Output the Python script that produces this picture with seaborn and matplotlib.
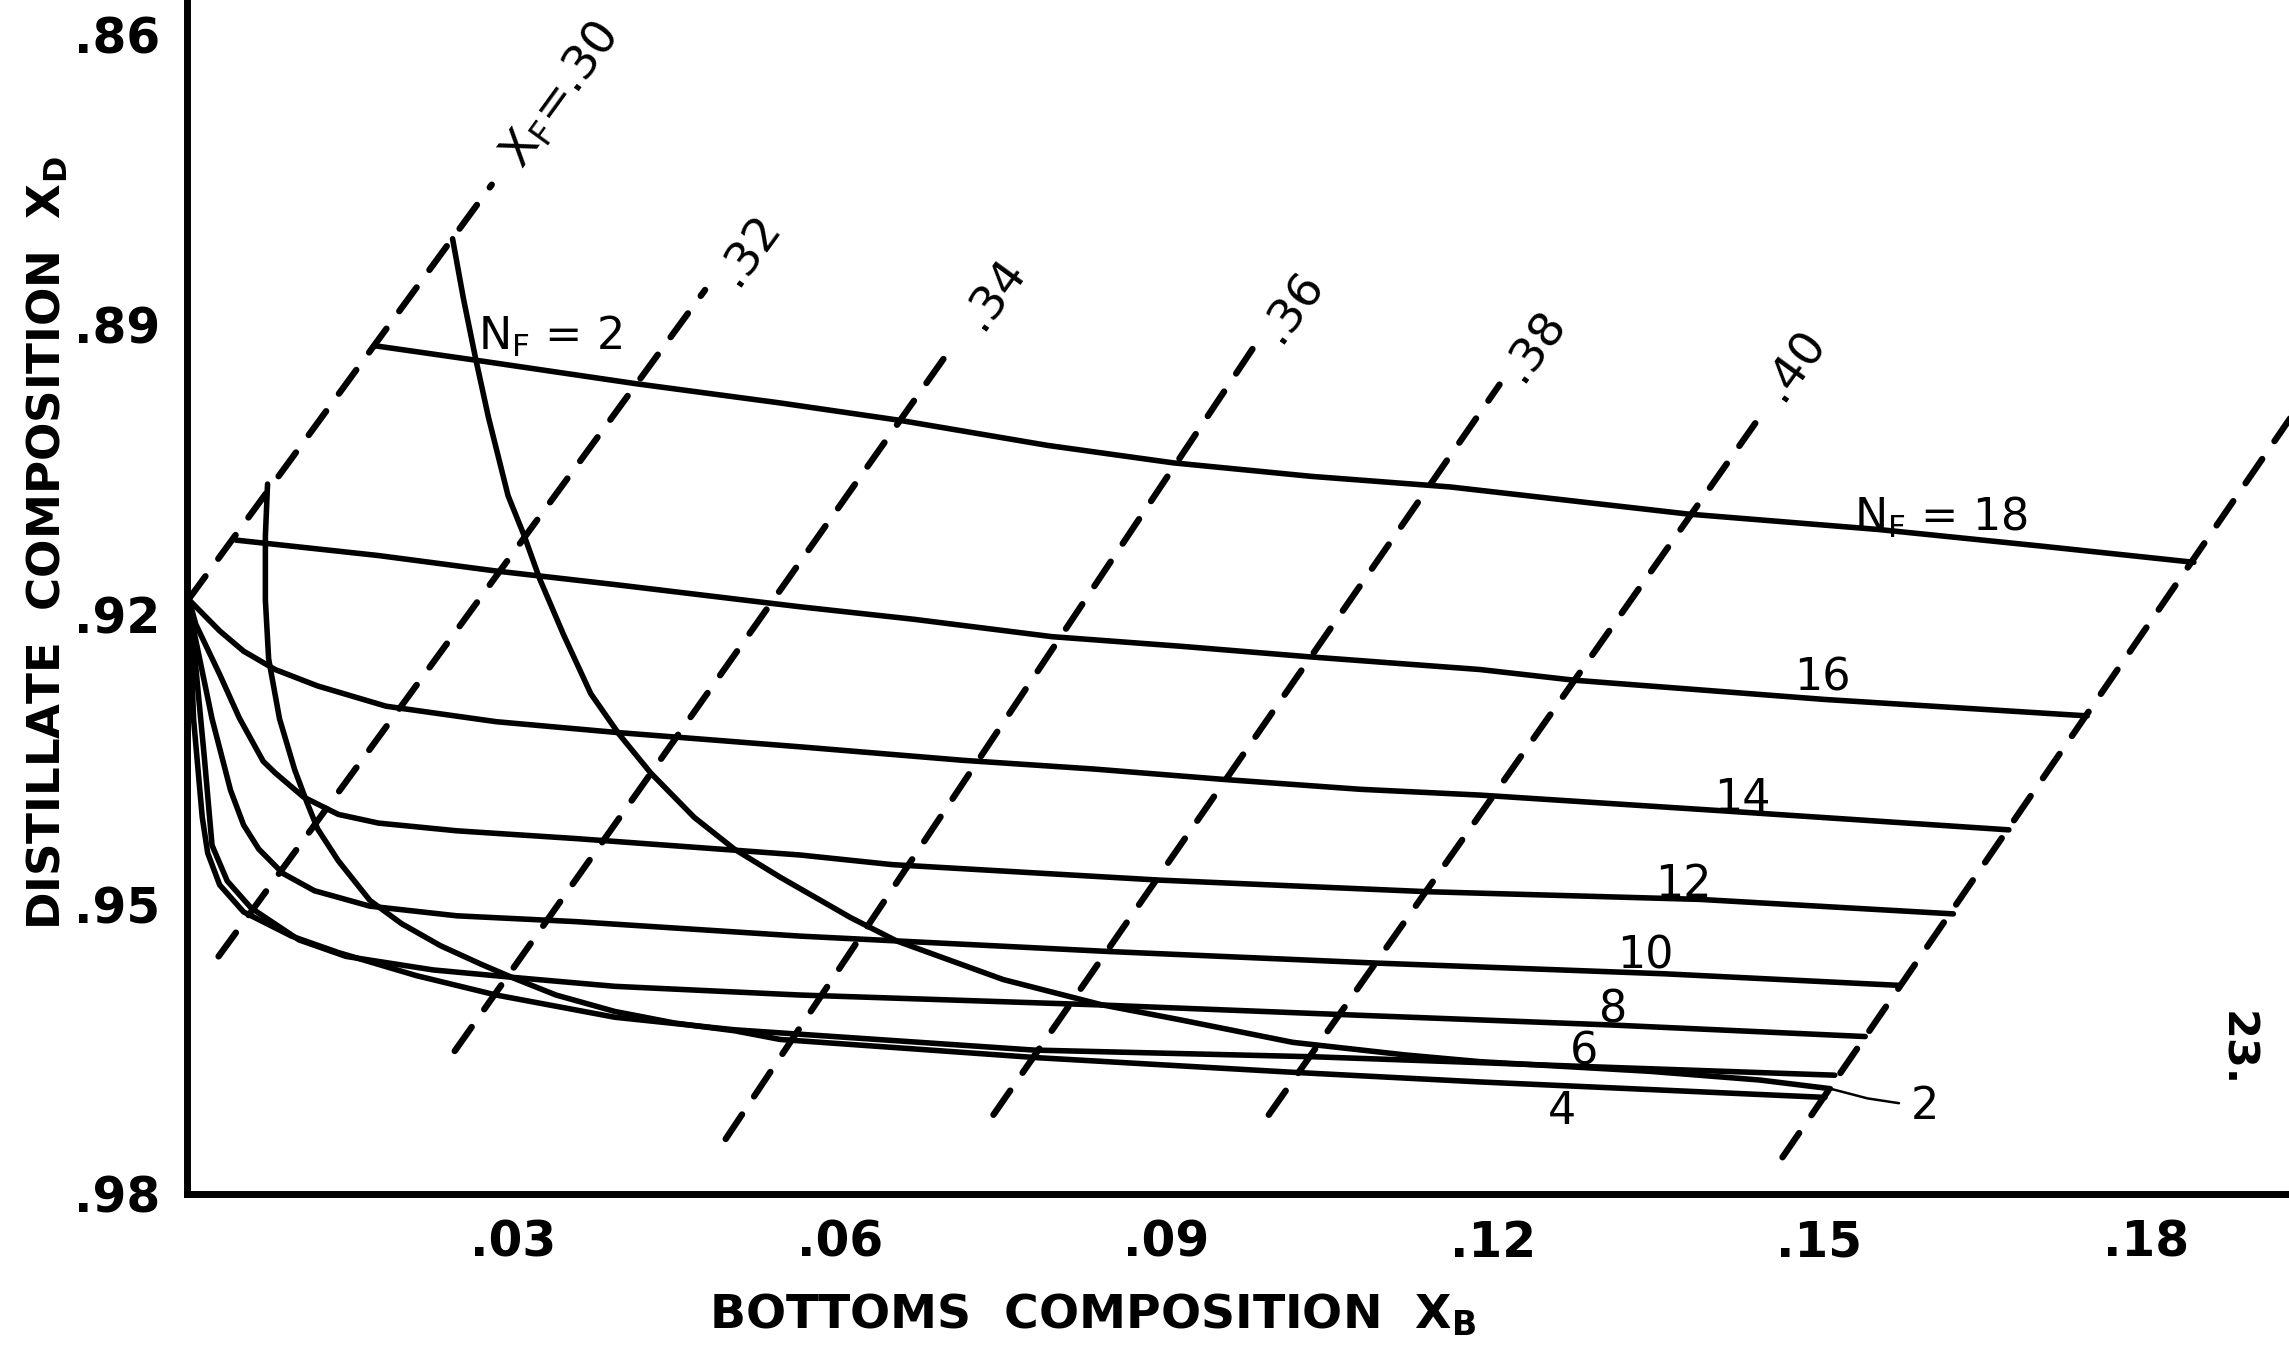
import matplotlib
matplotlib.use("Agg")
import matplotlib.pyplot as plt
import seaborn as sns

sns.set_theme(style="white")
plt.rcParams["font.family"] = ["DejaVu Sans"]
plt.rcParams["text.color"] = "black"
plt.rcParams["mathtext.fontset"] = "custom"
plt.rcParams["mathtext.rm"] = "DejaVu Sans"
plt.rcParams["mathtext.it"] = "DejaVu Sans"
plt.rcParams["mathtext.bf"] = "DejaVu Sans:bold"

# constant feed-stage curves (N_F): bottoms composition x_B vs distillate composition x_D
nf18_xb = [0.0174, 0.0267, 0.0412, 0.0545, 0.0655, 0.0791, 0.0906, 0.1033, 0.1161, 0.1379, 0.1554, 0.1702, 0.1844]
nf18_xd = [0.8922, 0.8937, 0.8961, 0.8981, 0.8999, 0.9025, 0.9043, 0.9057, 0.9068, 0.9096, 0.9112, 0.9129, 0.9146]

nf16_xb = [0.0045, 0.0176, 0.0284, 0.0393, 0.0563, 0.0668, 0.0795, 0.0914, 0.1033, 0.1188, 0.1274, 0.1505, 0.1746]
nf16_xd = [0.9123, 0.9139, 0.9155, 0.9169, 0.9192, 0.9205, 0.9223, 0.9233, 0.9244, 0.9257, 0.9268, 0.9288, 0.9305]

nf14_xb = [0.0002, 0.0016, 0.0030, 0.0052, 0.0081, 0.0120, 0.0183, 0.0284, 0.0393, 0.0563, 0.0713, 0.0833,
           0.0955, 0.1078, 0.1188, 0.1407, 0.1674]
nf14_xd = [0.9185, 0.9201, 0.9217, 0.9238, 0.9257, 0.9274, 0.9295, 0.9311, 0.9322, 0.9337, 0.9351, 0.9360,
           0.9371, 0.9381, 0.9387, 0.9403, 0.9423]

nf12_xb = [0.0002, 0.0008, 0.0030, 0.0048, 0.0070, 0.0081, 0.0107, 0.0139, 0.0176, 0.0248, 0.0357, 0.0563,
           0.0648, 0.0893, 0.1139, 0.1390, 0.1623]
nf12_xd = [0.9185, 0.9210, 0.9262, 0.9307, 0.9352, 0.9364, 0.9389, 0.9407, 0.9416, 0.9424, 0.9432, 0.9449,
           0.9459, 0.9475, 0.9487, 0.9495, 0.9510]

nf10_xb = [0.0002, 0.0005, 0.0023, 0.0040, 0.0052, 0.0066, 0.0088, 0.0117, 0.0168, 0.0248, 0.0357, 0.0563,
           0.0848, 0.1094, 0.1357, 0.1573]
nf10_xd = [0.9185, 0.9210, 0.9308, 0.9382, 0.9418, 0.9443, 0.9468, 0.9486, 0.9502, 0.9512, 0.9518, 0.9533,
           0.9549, 0.9561, 0.9572, 0.9584]

nf8_xb = [0.0002, 0.0005, 0.0016, 0.0023, 0.0037, 0.0059, 0.0103, 0.0146, 0.0226, 0.0302, 0.0393, 0.0563,
          0.0832, 0.1078, 0.1308, 0.1542]
nf8_xd = [0.9185, 0.9218, 0.9349, 0.9439, 0.9476, 0.9504, 0.9537, 0.9554, 0.9568, 0.9576, 0.9585, 0.9594,
          0.9604, 0.9615, 0.9625, 0.9637]

nf6_xb = [0.0002, 0.0006, 0.0014, 0.0019, 0.0030, 0.0052, 0.0096, 0.0139, 0.0211, 0.0284, 0.0393, 0.0503,
          0.0778, 0.1037, 0.1188, 0.1284, 0.1514]
nf6_xd = [0.9185, 0.9308, 0.9410, 0.9447, 0.9480, 0.9508, 0.9533, 0.9550, 0.9574, 0.9594, 0.9617, 0.9630,
          0.9651, 0.9658, 0.9664, 0.9668, 0.9677]

nf4_xb = [0.0074, 0.0072, 0.0072, 0.0075, 0.0085, 0.0099, 0.0110, 0.0120, 0.0139, 0.0168, 0.0197, 0.0233,
          0.0270, 0.0299, 0.0339, 0.0393, 0.0448, 0.0503, 0.0545, 0.0783, 0.1016, 0.1188, 0.1505]
nf4_xd = [0.9065, 0.9119, 0.9185, 0.9246, 0.9308, 0.9361, 0.9394, 0.9422, 0.9455, 0.9496, 0.9520, 0.9543,
          0.9562, 0.9576, 0.9594, 0.9611, 0.9623, 0.9631, 0.9640, 0.9659, 0.9674, 0.9684, 0.9700]

nf2_xb = [0.0244, 0.0254, 0.0265, 0.0277, 0.0295, 0.0310, 0.0324, 0.0346, 0.0371, 0.0397, 0.0426, 0.0466,
          0.0503, 0.0545, 0.0610, 0.0652, 0.0750, 0.0840, 0.0914, 0.1016, 0.1119, 0.1188, 0.1344, 0.1445, 0.1510]
nf2_xd = [0.8811, 0.8873, 0.8934, 0.8996, 0.9077, 0.9119, 0.9163, 0.9221, 0.9282, 0.9324, 0.9364, 0.9410,
          0.9443, 0.9472, 0.9514, 0.9538, 0.9578, 0.9604, 0.9620, 0.9643, 0.9656, 0.9663, 0.9673, 0.9682, 0.9691]

# leader from the N_F=2 end to its label
lead_xb = [0.1510, 0.1544, 0.1573]
lead_xd = [0.9691, 0.9701, 0.9706]

# constant feed-composition lines (x_F), lower and upper ends
xf_names = ["X$_\\mathrm{F}$=.30", ".32", ".34", ".36", ".38", ".40", ".42"]
xf_lo_xb = [0.0001, 0.0029, 0.0246, 0.0495, 0.0741, 0.0994, 0.1466]
xf_lo_xd = [0.9185, 0.9554, 0.9652, 0.9743, 0.9718, 0.9718, 0.9762]
xf_hi_xb = [0.0280, 0.0476, 0.0706, 0.0985, 0.1206, 0.1441, 0.1969]
xf_hi_xd = [0.8755, 0.8864, 0.8918, 0.8915, 0.8962, 0.9002, 0.8937]
# the .42 label sits past the right edge of the sheet, so only .30 to .40 get one
xf_lab_xb = [0.0343, 0.0517, 0.0742, 0.1016, 0.1238, 0.1477]
xf_lab_xd = [0.8662, 0.8823, 0.8868, 0.8882, 0.8922, 0.8942]

# curve labels
nf_labels = ["N$_\\mathrm{F}$ = 18", "16", "14", "12", "10", "8", "6", "4", "2", "N$_\\mathrm{F}$ = 2"]
nf_lab_xb = [0.1532, 0.1503, 0.1429, 0.1375, 0.1340, 0.1310, 0.1284, 0.1263, 0.1597, 0.0267]
nf_lab_xd = [0.9113, 0.9279, 0.9403, 0.9493, 0.9567, 0.9622, 0.9666, 0.9728, 0.9722, 0.8926]
nf_lab_ha = ["left", "center", "center", "center", "center", "center", "center", "center", "center", "left"]

yticks = [0.86, 0.89, 0.92, 0.95, 0.98]
ytick_labels = [".86", ".89", ".92", ".95", ".98"]
xticks = [0.03, 0.06, 0.09, 0.12, 0.15, 0.18]
xtick_labels = [".03", ".06", ".09", ".12", ".15", ".18"]

fig = plt.figure(figsize=(22.89, 13.47), dpi=100)
ax = fig.add_axes([0.0817, 0.1136, 0.9183, 0.8864])

curves = [(nf18_xb, nf18_xd), (nf16_xb, nf16_xd), (nf14_xb, nf14_xd), (nf12_xb, nf12_xd),
          (nf10_xb, nf10_xd), (nf8_xb, nf8_xd), (nf6_xb, nf6_xd), (nf4_xb, nf4_xd), (nf2_xb, nf2_xd)]
for xb, xd in curves:
    sns.lineplot(x=xb, y=xd, sort=False, estimator=None, color="black", lw=4.0,
                 solid_joinstyle="round", solid_capstyle="round", ax=ax)

sns.lineplot(x=lead_xb, y=lead_xd, sort=False, estimator=None, color="black", lw=1.8, ax=ax)

for i in range(len(xf_lo_xb)):
    sns.lineplot(x=[xf_lo_xb[i], xf_hi_xb[i]], y=[xf_lo_xd[i], xf_hi_xd[i]], sort=False,
                 estimator=None, color="black", lw=4.6, linestyle=(0, (4.6, 3.4)),
                 dash_capstyle="round", ax=ax)

for i in range(len(xf_lab_xb)):
    ax.text(xf_lab_xb[i], xf_lab_xd[i], xf_names[i], rotation=54, rotation_mode="anchor",
            ha="center", va="center", fontsize=34, color="black", clip_on=False)

for t, x, y, ha in zip(nf_labels, nf_lab_xb, nf_lab_xd, nf_lab_ha):
    ax.text(x, y, t, ha=ha, va="baseline", fontsize=32, color="black")

ax.set_xlim(0, 0.19314)
ax.set_ylim(0.98, 0.85638)
ax.set_xticks(xticks)
ax.set_xticklabels(xtick_labels, fontsize=35, fontweight="bold")
ax.set_yticks(yticks)
ax.set_yticklabels(ytick_labels, fontsize=35, fontweight="bold")
ax.tick_params(axis="both", direction="out", length=15, width=3.6, color="black", labelcolor="black")
ax.tick_params(axis="y", pad=4)
ax.tick_params(axis="x", pad=3)
ax.set_xlabel("")
ax.set_ylabel("")

for side in ["top", "right"]:
    ax.spines[side].set_visible(False)
for side in ["left", "bottom"]:
    ax.spines[side].set_color("black")
    ax.spines[side].set_linewidth(5)

fig.text(0.0266, 0.597, "DISTILLATE  COMPOSITION  X$_\\mathbf{D}$", rotation=90,
         rotation_mode="anchor", ha="center", va="baseline", fontsize=32.5, fontweight="bold",
         color="black")
fig.text(0.4775, 0.0141, "BOTTOMS  COMPOSITION  X$_\\mathbf{B}$", ha="center", va="baseline",
         fontsize=34, fontweight="bold", color="black")
fig.text(0.9770, 0.2209, "23.", rotation=-90, ha="center", va="center", fontsize=31,
         fontweight="bold", color="black")

fig.savefig("out.png", dpi=100, facecolor="white")
